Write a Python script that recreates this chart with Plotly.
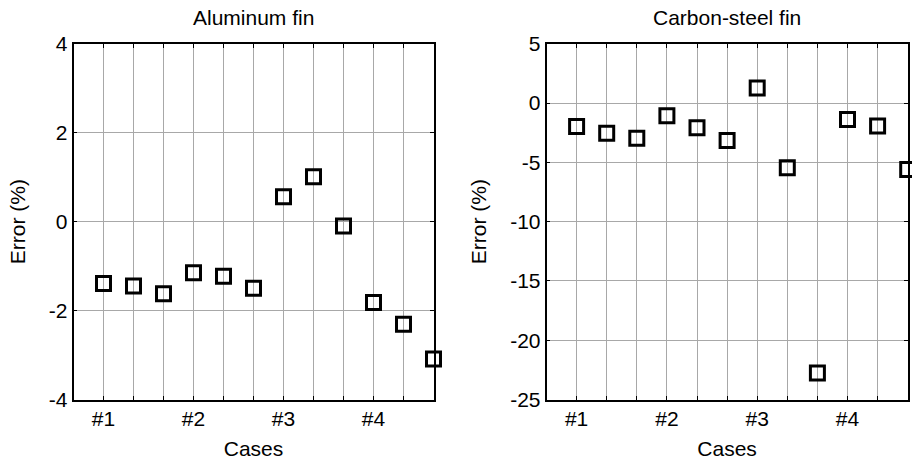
import plotly.graph_objects as go

# Case indices (three sub-cases per case group)
case_idx = list(range(1, 13))
case_labels = ["#1", "", "", "#2", "", "", "#3", "", "", "#4", "", ""]

# Prediction error (%) for each fin material
err_aluminum = [-1.39, -1.45, -1.62, -1.15, -1.23, -1.50, 0.56, 1.01, -0.10, -1.82, -2.31, -3.09]
err_carbon_steel = [-1.97, -2.54, -2.96, -1.07, -2.08, -3.15, 1.27, -5.46, -22.76, -1.38, -1.94, -5.60]

# Y tick labels (plain hyphen minus)
al_yticks = [-4, -2, 0, 2, 4]
cs_yticks = [-25, -20, -15, -10, -5, 0, 5]

FONT = "Liberation Sans, Arial, sans-serif"
FS = 21
GRID = "#a8a8a8"

fig = go.Figure()

marker = dict(symbol="square-open", size=14, color="black", line=dict(width=3, color="black"))
fig.add_trace(go.Scatter(x=case_idx, y=err_aluminum, mode="markers", marker=marker,
                         cliponaxis=False, xaxis="x", yaxis="y", showlegend=False))
fig.add_trace(go.Scatter(x=case_idx, y=err_carbon_steel, mode="markers", marker=marker,
                         cliponaxis=False, xaxis="x2", yaxis="y2", showlegend=False))

W, H = 912, 460
ydom = [1 - 399.5 / H, 1 - 43.8 / H]
xdom1 = [73.5 / W, 433.5 / W]
xdom2 = [546.5 / W, 907.7 / W]

def xaxis_style(domain, anchor):
    return dict(domain=domain, anchor=anchor, range=[0, 12], tickmode="array",
                tickvals=case_idx, ticktext=case_labels, ticks="inside", ticklen=4,
                tickcolor="black", showline=True, linecolor="black", linewidth=1.5,
                mirror="all", showgrid=True, gridcolor=GRID, gridwidth=1, zeroline=False,
                ticklabelstandoff=0, automargin=False,
                tickfont=dict(family=FONT, size=FS, color="black"),
                title=dict(text="Cases", font=dict(family=FONT, size=FS, color="black"), standoff=18))

def yaxis_style(domain, anchor, rng, ticks):
    return dict(domain=domain, anchor=anchor, range=rng, tickmode="array",
                tickvals=ticks, ticktext=[str(t) for t in ticks], ticks="inside", ticklen=4,
                tickcolor="black", showline=True, linecolor="black", linewidth=1.5,
                mirror="all", showgrid=True, gridcolor=GRID, gridwidth=1, zeroline=False,
                ticklabelstandoff=0, automargin=False,
                tickfont=dict(family=FONT, size=FS, color="black"),
                title=dict(text="Error (%)", font=dict(family=FONT, size=FS, color="black"), standoff=18))

fig.update_layout(
    width=W, height=H,
    margin=dict(l=0, r=0, t=0, b=0, autoexpand=False),
    paper_bgcolor="white", plot_bgcolor="white",
    xaxis=xaxis_style(xdom1, "y"),
    yaxis=yaxis_style(ydom, "x", [-4, 4], al_yticks),
    xaxis2=xaxis_style(xdom2, "y2"),
    yaxis2=yaxis_style(ydom, "x2", [-25, 5], cs_yticks),
    annotations=[
        dict(text="Aluminum fin", x=(xdom1[0] + xdom1[1]) / 2, y=1 - 17 / H, xref="paper", yref="paper",
             xanchor="center", yanchor="middle", showarrow=False,
             font=dict(family=FONT, size=FS, color="black")),
        dict(text="Carbon-steel fin", x=(xdom2[0] + xdom2[1]) / 2, y=1 - 17 / H, xref="paper", yref="paper",
             xanchor="center", yanchor="middle", showarrow=False,
             font=dict(family=FONT, size=FS, color="black")),
    ],
)

fig.write_html("out.html")
